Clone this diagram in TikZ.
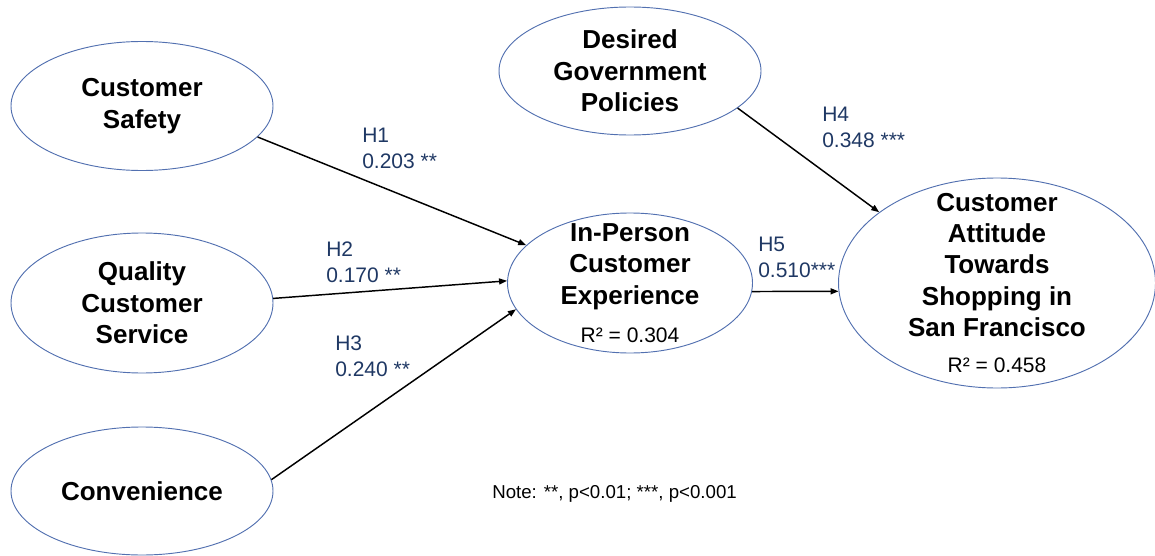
\documentclass[tikz,border=0pt]{standalone}
\usepackage{fontspec}
\setmainfont{Liberation Sans}
\usetikzlibrary{arrows.meta,shapes.geometric}
\definecolor{rimblue}{RGB}{82,112,176}
\definecolor{coefnavy}{RGB}{31,56,100}
\tikzset{
  construct/.style={ellipse,draw=rimblue,line width=0.7pt,inner sep=0pt},
  cname/.style={align=center,inner sep=0pt,font=\bfseries\fontsize{19.5}{23.5}\selectfont},
  coef/.style={align=left,anchor=north west,inner sep=0pt,text=coefnavy,font=\fontsize{15.75}{19.5}\selectfont},
  effect/.style={-{Triangle[length=6pt,width=4.5pt]},line width=1.1pt}
}
\newcommand{\rsq}[1]{{\mdseries\fontsize{15.75}{19}\selectfont R² = #1}}

\begin{document}
\begin{tikzpicture}[x=0.75pt,y=-0.75pt]
  \useasboundingbox (0,0) rectangle (1155,556);
  \node[construct,minimum width=196.5pt,minimum height=96.75pt] (safety) at (142,106) {};
  \node[construct,minimum width=196.5pt,minimum height=105pt]   (quality) at (142,303) {};
  \node[construct,minimum width=196.5pt,minimum height=96pt]    (conv) at (142,491) {};
  \node[construct,minimum width=196.5pt,minimum height=96pt]    (policy) at (630,71) {};
  \node[construct,minimum width=183.75pt,minimum height=105pt]  (inperson) at (630,283) {};
  \node[construct,minimum width=237.75pt,minimum height=157.5pt] (attitude) at (997,283) {};
  \node[cname] (safety-t)  at (safety)  {Customer\\Safety};
  \node[cname] (quality-t) at (quality) {Quality\\Customer\\Service};
  \node[cname] (conv-t)    at (conv)    {Convenience};
  \node[cname] (policy-t)  at (policy)  {Desired\\Government\\Policies};
  \node[cname] (inperson-t) at (inperson) {In-Person\\Customer\\Experience\\[5pt]\rsq{0.304}};
  \node[cname] (attitude-t) at (attitude) {Customer\\Attitude\\Towards\\Shopping in\\San Francisco\\[3.5pt]\rsq{0.458}};
  \draw[effect] (safety.-15.5) -- (inperson.160.6);
  \draw[effect] (quality.2.6) -- (inperson.179);
  \draw[effect] (conv.5) -- (inperson.-167);
  \draw[effect] (policy.-19) -- (attitude.149);
  \draw[effect] (inperson.-4) -- (attitude.183);
  \node[coef] (h1) at (362,128) {H1\\0.203 **};
  \node[coef] (h2) at (326,242) {H2\\0.170 **};
  \node[coef] (h3) at (335,336) {H3\\0.240 **};
  \node[coef] (h4) at (822,107) {H4\\0.348 ***};
  \node[coef] (h5) at (758,237) {H5\\0.510***};
  \node[anchor=north west,inner sep=0pt,font=\fontsize{14}{17}\selectfont] (note) at (492,485)
    {Note: **, p<0.01; ***, p<0.001};
\end{tikzpicture}
\end{document}
